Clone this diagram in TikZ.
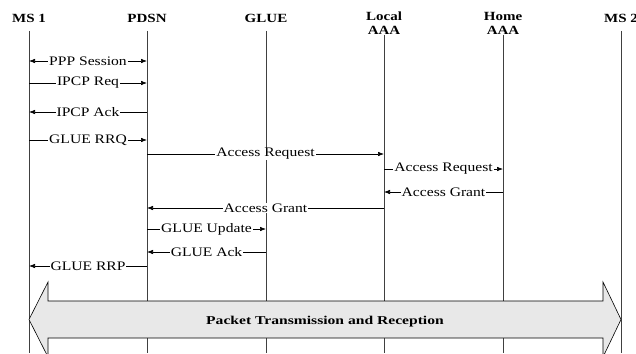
\documentclass[tikz,border=0pt]{standalone}
\usepackage{fontspec}
\setmainfont{Liberation Serif}
\newfontfamily\widefont[FakeStretch=1.2]{Liberation Serif}
\newfontfamily\bandfont[FakeStretch=1.3]{Liberation Serif}
\usetikzlibrary{arrows.meta,positioning}

\begin{document}
\begin{tikzpicture}[x=1pt,y=-1pt,>={Latex[length=6pt,width=4.5pt]},
  hdr/.style={font=\widefont\bfseries\fontsize{12.5}{14}\selectfont,inner sep=0pt,align=center},
  life/.style={line width=0.9pt,black!75},
  msg/.style={line width=0.6pt},
  lab/.style={fill=white,inner xsep=1pt,inner ysep=0.5pt,font=\widefont\fontsize{13}{14}\selectfont},
  pkt/.style={draw,line width=0.6pt,fill=black!9}]
\useasboundingbox (0,0) rectangle (636,353);
% entities
\node (ms1) [hdr,anchor=base] at (29,23) {MS 1};
\node (pdsn) [hdr,anchor=base] at (147,23) {PDSN};
\node (glue) [hdr,anchor=base] at (266,23) {GLUE};
\node (laaa) [hdr,anchor=north] at (384,12) {Local\\AAA};
\node (haaa) [hdr,anchor=north] at (503,12) {Home\\AAA};
\node (ms2) [hdr,anchor=base] at (621,23) {MS 2};
% lifelines
\coordinate (ltop) at (0,31);
\coordinate (lbot) at (0,353);
\foreach \n in {ms1,pdsn,glue,ms2}
  \draw[life] (\n |- ltop) -- (\n |- lbot);
\foreach \n in {laaa,haaa}
  \draw[life] (\n.south) -- (\n |- lbot);
% message rows
\coordinate (r1) at (0,61);
\coordinate (r2) at (0,83);
\coordinate (r3) at (0,112);
\coordinate (r4) at (0,140);
\coordinate (r5) at (0,154);
\coordinate (r6) at (0,169);
\coordinate (r7) at (0,192);
\coordinate (r8) at (0,208);
\coordinate (r9) at (0,229);
\coordinate (r10) at (0,252);
\coordinate (r11) at (0,266);
\draw[msg,<->] (ms1 |- r1) -- node[lab]{PPP Session} (pdsn |- r1);
\draw[msg,->] (ms1 |- r2) -- node[lab]{IPCP Req} (pdsn |- r2);
\draw[msg,->] (pdsn |- r3) -- node[lab]{IPCP Ack} (ms1 |- r3);
\draw[msg,->] (ms1 |- r4) -- node[lab]{GLUE RRQ} (pdsn |- r4);
\draw[msg,->] (pdsn |- r5) -- node[lab]{Access Request} (laaa |- r5);
\draw[msg,->] (laaa |- r6) -- node[lab]{Access Request} (haaa |- r6);
\draw[msg,->] (haaa |- r7) -- node[lab]{Access Grant} (laaa |- r7);
\draw[msg,->] (laaa |- r8) -- node[lab]{Access Grant} (pdsn |- r8);
\draw[msg,->] (pdsn |- r9) -- node[lab]{GLUE Update} (glue |- r9);
\draw[msg,->] (glue |- r10) -- node[lab]{GLUE Ack} (pdsn |- r10);
\draw[msg,->] (pdsn |- r11) -- node[lab]{GLUE RRP} (ms1 |- r11);
% packet band
\draw[pkt] (29,319.5) -- (48,282) -- (48,301) -- (603,301) -- (603,282)
  -- (621,319.5) -- (603,357) -- (603,338) -- (48,338) -- (48,357) -- cycle;
\node (band) [anchor=base,font=\bandfont\bfseries\fontsize{12}{14}\selectfont]
  at (325,324) {Packet Transmission and Reception};
\end{tikzpicture}
\end{document}
